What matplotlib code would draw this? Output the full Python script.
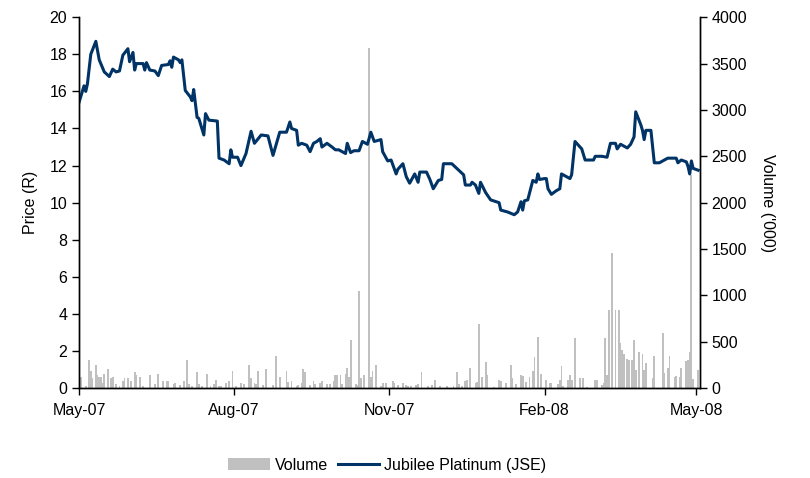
import numpy as np
import pandas as pd
import matplotlib
matplotlib.use("Agg")
import matplotlib.pyplot as plt
import matplotlib.dates as mdates

plt.rcParams['font.family'] = ['Liberation Sans', 'DejaVu Sans']

# closing price, rand
price_dates = [
	"2007-05-01", "2007-05-04", "2007-05-05", "2007-05-06", "2007-05-08", "2007-05-11", "2007-05-13",
	"2007-05-16", "2007-05-19", "2007-05-21", "2007-05-23", "2007-05-25", "2007-05-27", "2007-05-30",
	"2007-05-31", "2007-06-02", "2007-06-03", "2007-06-04", "2007-06-08", "2007-06-09", "2007-06-10",
	"2007-06-12", "2007-06-15", "2007-06-17", "2007-06-19", "2007-06-23", "2007-06-24", "2007-06-25",
	"2007-06-26", "2007-06-29", "2007-06-30", "2007-07-01", "2007-07-03", "2007-07-06", "2007-07-07",
	"2007-07-08", "2007-07-10", "2007-07-11", "2007-07-14", "2007-07-15", "2007-07-17", "2007-07-22",
	"2007-07-23", "2007-07-26", "2007-07-29", "2007-07-30", "2007-07-31", "2007-08-03", "2007-08-05",
	"2007-08-08", "2007-08-11", "2007-08-13", "2007-08-17", "2007-08-21", "2007-08-24", "2007-08-28",
	"2007-09-01", "2007-09-03", "2007-09-04", "2007-09-07", "2007-09-08", "2007-09-10", "2007-09-13",
	"2007-09-15", "2007-09-17", "2007-09-19", "2007-09-21", "2007-09-22", "2007-09-25", "2007-09-28",
	"2007-09-30", "2007-10-02", "2007-10-06", "2007-10-07", "2007-10-09", "2007-10-11", "2007-10-14",
	"2007-10-16", "2007-10-19", "2007-10-21", "2007-10-23", "2007-10-27", "2007-10-28", "2007-10-31",
	"2007-11-02", "2007-11-05", "2007-11-06", "2007-11-09", "2007-11-11", "2007-11-13", "2007-11-16",
	"2007-11-18", "2007-11-19", "2007-11-23", "2007-11-25", "2007-11-27", "2007-11-30", "2007-12-02",
	"2007-12-03", "2007-12-08", "2007-12-15", "2007-12-16", "2007-12-19", "2007-12-20", "2007-12-22",
	"2007-12-24", "2007-12-25", "2007-12-28", "2007-12-31", "2008-01-05", "2008-01-06", "2008-01-10",
	"2008-01-14", "2008-01-16", "2008-01-18", "2008-01-19", "2008-01-20", "2008-01-22", "2008-01-25",
	"2008-01-27", "2008-01-28", "2008-01-29", "2008-02-01", "2008-02-02", "2008-02-03", "2008-02-05",
	"2008-02-08", "2008-02-10", "2008-02-11", "2008-02-14", "2008-02-16", "2008-02-17", "2008-02-19",
	"2008-02-21", "2008-02-23", "2008-02-25", "2008-03-01", "2008-03-02", "2008-03-06", "2008-03-09",
	"2008-03-11", "2008-03-14", "2008-03-15", "2008-03-17", "2008-03-21", "2008-03-23", "2008-03-25",
	"2008-03-26", "2008-03-29", "2008-03-30", "2008-03-31", "2008-04-01", "2008-04-04", "2008-04-06",
	"2008-04-09", "2008-04-14", "2008-04-19", "2008-04-20", "2008-04-22", "2008-04-25", "2008-04-26",
	"2008-04-27", "2008-04-28", "2008-04-29", "2008-05-02"]
price = [
	15.4, 16.3, 16.0, 16.4, 18.0, 18.7, 17.7,
	17.05, 16.8, 17.2, 17.05, 17.1, 17.95, 18.3,
	17.6, 18.1, 17.15, 17.5, 17.5, 17.15, 17.55,
	17.15, 17.1, 16.85, 17.4, 17.45, 17.65, 17.3,
	17.85, 17.7, 17.55, 17.7, 16.05, 15.7, 15.5,
	16.1, 14.6, 14.55, 13.65, 14.8, 14.45, 14.4,
	12.4, 12.3, 12.1, 12.85, 12.45, 12.45, 12.0,
	12.65, 13.85, 13.2, 13.65, 13.6, 12.55, 13.8,
	13.8, 14.35, 14.0, 13.9, 13.1, 13.2, 13.1,
	12.75, 13.2, 13.3, 13.45, 13.0, 13.2, 13.0,
	12.85, 12.85, 12.65, 13.2, 12.7, 12.8, 12.8,
	13.3, 13.15, 13.8, 13.3, 13.4, 12.75, 12.25,
	12.3, 11.55, 11.8, 12.1, 11.4, 11.05, 11.55,
	11.1, 11.65, 11.65, 11.25, 10.75, 11.2, 11.25,
	12.1, 12.1, 11.5, 10.95, 10.95, 11.1, 10.95,
	10.5, 11.1, 10.55, 10.15, 10.0, 9.6, 9.5,
	9.35, 9.5, 10.05, 9.6, 10.1, 10.15, 11.2,
	11.1, 11.55, 11.25, 11.3, 11.3, 10.75, 10.45,
	10.65, 10.75, 11.55, 11.4, 11.3, 11.5, 13.3,
	13.1, 12.9, 12.3, 12.3, 12.5, 12.5, 12.45,
	13.2, 13.2, 12.9, 13.15, 12.95, 13.15, 13.55,
	14.9, 14.2, 13.9, 13.4, 13.9, 13.9, 12.15,
	12.15, 12.4, 12.4, 12.15, 12.3, 12.2, 11.95,
	11.55, 12.25, 11.85, 11.75]

# daily volume, thousands of shares
vol_dates = [
	"2007-05-02", "2007-05-05", "2007-05-07", "2007-05-08", "2007-05-09", "2007-05-11", "2007-05-12",
	"2007-05-13", "2007-05-14", "2007-05-15", "2007-05-16", "2007-05-18", "2007-05-20", "2007-05-21",
	"2007-05-23", "2007-05-25", "2007-05-27", "2007-05-28", "2007-05-30", "2007-06-01", "2007-06-03",
	"2007-06-04", "2007-06-06", "2007-06-08", "2007-06-12", "2007-06-15", "2007-06-17", "2007-06-20",
	"2007-06-22", "2007-06-23", "2007-06-26", "2007-06-27", "2007-06-30", "2007-07-02", "2007-07-04",
	"2007-07-05", "2007-07-07", "2007-07-10", "2007-07-11", "2007-07-13", "2007-07-16", "2007-07-18",
	"2007-07-20", "2007-07-21", "2007-07-23", "2007-07-24", "2007-07-27", "2007-07-29", "2007-07-31",
	"2007-08-02", "2007-08-05", "2007-08-07", "2007-08-10", "2007-08-11", "2007-08-13", "2007-08-14",
	"2007-08-15", "2007-08-18", "2007-08-20", "2007-08-24", "2007-08-26", "2007-08-28", "2007-09-01",
	"2007-09-02", "2007-09-04", "2007-09-07", "2007-09-08", "2007-09-10", "2007-09-11", "2007-09-12",
	"2007-09-15", "2007-09-17", "2007-09-18", "2007-09-21", "2007-09-22", "2007-09-25", "2007-09-27",
	"2007-09-29", "2007-09-30", "2007-10-01", "2007-10-03", "2007-10-04", "2007-10-06", "2007-10-07",
	"2007-10-08", "2007-10-09", "2007-10-12", "2007-10-13", "2007-10-14", "2007-10-15", "2007-10-17",
	"2007-10-20", "2007-10-21", "2007-10-22", "2007-10-24", "2007-10-27", "2007-10-28", "2007-10-30",
	"2007-11-03", "2007-11-04", "2007-11-06", "2007-11-09", "2007-11-11", "2007-11-12", "2007-11-14",
	"2007-11-17", "2007-11-18", "2007-11-20", "2007-11-24", "2007-11-26", "2007-11-28", "2007-12-01",
	"2007-12-05", "2007-12-09", "2007-12-11", "2007-12-12", "2007-12-14", "2007-12-16", "2007-12-17",
	"2007-12-19", "2007-12-22", "2007-12-23", "2007-12-24", "2007-12-26", "2007-12-28", "2007-12-29",
	"2008-01-02", "2008-01-05", "2008-01-06", "2008-01-09", "2008-01-12", "2008-01-13", "2008-01-15",
	"2008-01-18", "2008-01-19", "2008-01-21", "2008-01-23", "2008-01-25", "2008-01-26", "2008-01-28",
	"2008-01-30", "2008-02-02", "2008-02-04", "2008-02-05", "2008-02-09", "2008-02-10", "2008-02-11",
	"2008-02-12", "2008-02-15", "2008-02-16", "2008-02-17", "2008-02-19", "2008-02-22", "2008-02-24",
	"2008-02-26", "2008-03-02", "2008-03-03", "2008-03-06", "2008-03-07", "2008-03-08", "2008-03-09",
	"2008-03-10", "2008-03-12", "2008-03-14", "2008-03-16", "2008-03-17", "2008-03-18", "2008-03-19",
	"2008-03-21", "2008-03-22", "2008-03-24", "2008-03-25", "2008-03-26", "2008-03-28", "2008-03-30",
	"2008-03-31", "2008-04-01", "2008-04-05", "2008-04-06", "2008-04-11", "2008-04-12", "2008-04-14",
	"2008-04-15", "2008-04-18", "2008-04-19", "2008-04-21", "2008-04-22", "2008-04-25", "2008-04-26",
	"2008-04-27", "2008-04-28", "2008-04-29", "2008-05-02"]
volume = [
	125, 25, 303, 186, 107, 250, 143,
	125, 118, 54, 154, 207, 114, 118,
	46, 25, 75, 107, 107, 75, 171,
	143, 118, 25, 139, 43, 154, 79,
	79, 79, 43, 54, 32, 79, 303,
	46, 18, 171, 46, 25, 154, 18,
	46, 89, 25, 25, 54, 82, 186,
	18, 54, 46, 250, 114, 54, 46,
	186, 36, 207, 36, 346, 118, 186,
	61, 75, 18, 29, 54, 207, 179,
	36, 79, 46, 54, 82, 46, 46,
	82, 143, 146, 143, 46, 150, 214,
	125, 518, 43, 36, 1046, 107, 143,
	3670, 125, 186, 250, 25, 54, 54,
	72, 54, 36, 54, 36, 25, 25,
	36, 47, 170, 18, 29, 90, 18,
	25, 25, 174, 47, 18, 72, 90,
	217, 54, 62, 688, 119, 282, 145,
	11, 83, 72, 54, 253, 109, 47,
	145, 127, 62, 119, 188, 337, 554,
	156, 83, 54, 54, 47, 90, 243,
	18, 83, 145, 83, 543, 109, 109,
	11, 90, 90, 36, 54, 543, 145,
	843, 1460, 843, 843, 489, 416, 373,
	315, 300, 300, 518, 199, 387, 373,
	199, 272, 109, 344, 597, 163, 217,
	351, 119, 127, 119, 217, 290, 308,
	387, 2300, 98, 192]

price_dates = pd.to_datetime(price_dates)
vol_dates = pd.to_datetime(vol_dates)

fig = plt.figure(figsize=(8.1, 4.78), dpi=100)
ax = fig.add_axes([0.0975, 0.188, 0.7665, 0.776])
ax2 = ax.twinx()

# volume bars go behind the price line
ax.set_zorder(ax2.get_zorder() + 1)
ax.patch.set_visible(False)

bars = ax2.bar(vol_dates, volume, width=1.1, color="#c0c0c0", label="Volume")
line, = ax.plot(price_dates, price, color="#003366", lw=2.2, label="Jubilee Platinum (JSE)")

ax.set_ylim(0, 20)
ax.set_yticks(np.arange(0, 21, 2))
ax2.set_ylim(0, 4000)
ax2.set_yticks(np.arange(0, 4001, 500))
ax.set_xlim(pd.Timestamp("2007-05-01"), pd.Timestamp("2008-05-03"))

ticks = pd.to_datetime(["2007-05-01", "2007-08-01", "2007-11-01", "2008-02-01", "2008-05-01"])
ax.set_xticks(ticks)
ax.xaxis.set_major_formatter(mdates.DateFormatter("%b-%y"))

for a in (ax, ax2):
	a.spines["top"].set_visible(False)
	a.tick_params(labelsize=11.5, direction="out", length=5, width=1, colors="black")
	for s in a.spines.values():
		s.set_linewidth(1)
ax.tick_params(axis="x", pad=6)

ax.set_ylabel("Price (R)", fontsize=11.5, labelpad=8)
ax2.set_ylabel("Volume ('000)", fontsize=11.5, rotation=-90, labelpad=20)

fig.legend([bars, line], ["Volume", "Jubilee Platinum (JSE)"], loc="center",
	bbox_to_anchor=(0.478, 0.027), ncol=2, frameon=False, fontsize=11.5,
	handlelength=2.6, handletextpad=0.3, columnspacing=0.6)

plt.savefig("out.png", dpi=100)
